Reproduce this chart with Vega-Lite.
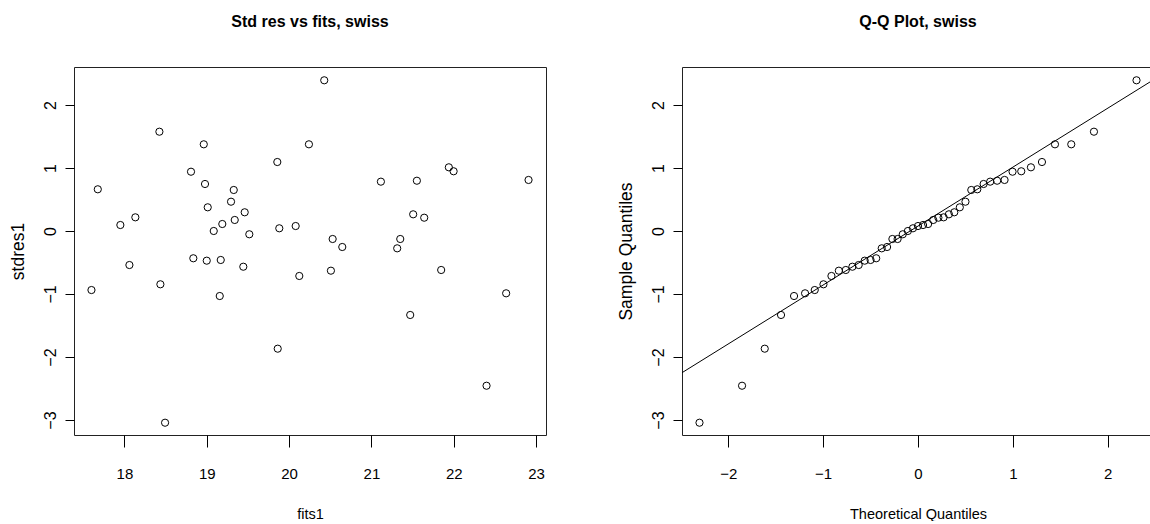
{
  "$schema": "https://vega.github.io/schema/vega-lite/v6.json",
  "background": "white",
  "padding": {"left": 8, "top": 13, "right": 0, "bottom": 0},
  "spacing": 136,
  "bounds": "flush",
  "datasets": {
    "resid": [
      {"fit": 17.677, "stdres": 0.662}, {"fit": 18.425, "stdres": 1.576}, {"fit": 18.964, "stdres": 1.376},
      {"fit": 18.809, "stdres": 0.941}, {"fit": 18.979, "stdres": 0.746}, {"fit": 19.328, "stdres": 0.651},
      {"fit": 19.295, "stdres": 0.465}, {"fit": 19.012, "stdres": 0.376}, {"fit": 19.461, "stdres": 0.297},
      {"fit": 19.340, "stdres": 0.175}, {"fit": 19.189, "stdres": 0.111}, {"fit": 19.085, "stdres": 0.000},
      {"fit": 19.517, "stdres": -0.052}, {"fit": 17.951, "stdres": 0.095}, {"fit": 18.133, "stdres": 0.217},
      {"fit": 19.857, "stdres": 1.095}, {"fit": 19.881, "stdres": 0.043}, {"fit": 20.080, "stdres": 0.079},
      {"fit": 20.427, "stdres": 2.392}, {"fit": 20.241, "stdres": 1.376}, {"fit": 21.940, "stdres": 1.011},
      {"fit": 21.998, "stdres": 0.948}, {"fit": 21.115, "stdres": 0.783}, {"fit": 21.552, "stdres": 0.798},
      {"fit": 22.908, "stdres": 0.810}, {"fit": 21.507, "stdres": 0.265}, {"fit": 21.641, "stdres": 0.211},
      {"fit": 20.529, "stdres": -0.127}, {"fit": 20.646, "stdres": -0.254}, {"fit": 21.350, "stdres": -0.127},
      {"fit": 21.313, "stdres": -0.275}, {"fit": 17.600, "stdres": -0.937}, {"fit": 18.061, "stdres": -0.540},
      {"fit": 18.437, "stdres": -0.846}, {"fit": 18.837, "stdres": -0.433}, {"fit": 19.000, "stdres": -0.471},
      {"fit": 19.170, "stdres": -0.460}, {"fit": 19.444, "stdres": -0.567}, {"fit": 19.158, "stdres": -1.032},
      {"fit": 20.124, "stdres": -0.714}, {"fit": 19.862, "stdres": -1.868}, {"fit": 18.494, "stdres": -3.043},
      {"fit": 20.508, "stdres": -0.630}, {"fit": 21.847, "stdres": -0.619}, {"fit": 22.636, "stdres": -0.989},
      {"fit": 21.471, "stdres": -1.333}, {"fit": 22.398, "stdres": -2.456}
    ],
    "qq": [
      {"theo": -2.3027, "sample": -3.043}, {"theo": -1.8542, "sample": -2.456}, {"theo": -1.6151, "sample": -1.868},
      {"theo": -1.4434, "sample": -1.333}, {"theo": -1.3063, "sample": -1.032}, {"theo": -1.1901, "sample": -0.989},
      {"theo": -1.0881, "sample": -0.937}, {"theo": -0.9963, "sample": -0.846}, {"theo": -0.9122, "sample": -0.714},
      {"theo": -0.8341, "sample": -0.630}, {"theo": -0.7608, "sample": -0.619}, {"theo": -0.6913, "sample": -0.567},
      {"theo": -0.6251, "sample": -0.540}, {"theo": -0.5615, "sample": -0.471}, {"theo": -0.5001, "sample": -0.460},
      {"theo": -0.4405, "sample": -0.433}, {"theo": -0.3824, "sample": -0.275}, {"theo": -0.3257, "sample": -0.254},
      {"theo": -0.2699, "sample": -0.127}, {"theo": -0.2150, "sample": -0.127}, {"theo": -0.1606, "sample": -0.052},
      {"theo": -0.1067, "sample": 0.000}, {"theo": -0.0533, "sample": 0.043}, {"theo": 0.0, "sample": 0.079},
      {"theo": 0.0533, "sample": 0.095}, {"theo": 0.1067, "sample": 0.111}, {"theo": 0.1606, "sample": 0.175},
      {"theo": 0.2150, "sample": 0.211}, {"theo": 0.2699, "sample": 0.217}, {"theo": 0.3257, "sample": 0.265},
      {"theo": 0.3824, "sample": 0.297}, {"theo": 0.4405, "sample": 0.376}, {"theo": 0.5001, "sample": 0.465},
      {"theo": 0.5615, "sample": 0.651}, {"theo": 0.6251, "sample": 0.662}, {"theo": 0.6913, "sample": 0.746},
      {"theo": 0.7608, "sample": 0.783}, {"theo": 0.8341, "sample": 0.798}, {"theo": 0.9122, "sample": 0.810},
      {"theo": 0.9963, "sample": 0.941}, {"theo": 1.0881, "sample": 0.948}, {"theo": 1.1901, "sample": 1.011},
      {"theo": 1.3063, "sample": 1.095}, {"theo": 1.4434, "sample": 1.376}, {"theo": 1.6151, "sample": 1.376},
      {"theo": 1.8542, "sample": 1.576}, {"theo": 2.3027, "sample": 2.392}
    ],
    "qqline": [
      {"theo": -2.487, "sample": -2.249},
      {"theo": 2.487, "sample": 2.405}
    ]
  },
  "config": {
    "view": {"stroke": "#222", "strokeWidth": 1},
    "title": {"font": "Liberation Sans", "fontSize": 16, "fontWeight": "bold", "color": "black", "baseline": "alphabetic", "offset": 37, "anchor": "middle"},
    "axis": {"grid": false, "domain": false, "tickColor": "black", "tickWidth": 1, "labelColor": "black", "titleColor": "black", "titleFontWeight": "normal", "format": "d"},
    "axisX": {"tickSize": 12, "labelFont": "Liberation Sans", "labelFontSize": 15, "labelBaseline": "alphabetic", "labelPadding": 31, "titleFont": "Liberation Sans", "titleFontSize": 14.5, "titleBaseline": "alphabetic", "titleX": 236, "titleY": 83, "labelFlush": false, "labelOverlap": false},
    "axisY": {"tickSize": 9, "labelFont": "Liberation Sans", "labelFontSize": 16, "labelAngle": 270, "labelAlign": "center", "labelBaseline": "alphabetic", "labelPadding": 10, "titleFont": "Liberation Sans", "titleFontSize": 17.5, "titleAngle": 270, "titleAlign": "center", "titleBaseline": "alphabetic", "titleX": -51, "titleY": 184, "labelFlush": false, "labelOverlap": false}
  },
  "hconcat": [
    {
      "width": 472,
      "height": 368,
      "title": "Std res vs fits, swiss",
      "data": {"name": "resid"},
      "mark": {"type": "point", "shape": "circle", "filled": false, "color": "black", "strokeWidth": 1, "size": 52, "opacity": 1},
      "encoding": {
        "x": {"field": "fit", "type": "quantitative", "title": "fits1",
              "scale": {"domain": [17.388, 23.12], "nice": false, "zero": false},
              "axis": {"values": [18, 19, 20, 21, 22, 23]}},
        "y": {"field": "stdres", "type": "quantitative", "title": "stdres1",
              "scale": {"domain": [-3.238, 2.603], "nice": false, "zero": false},
              "axis": {"values": [-3, -2, -1, 0, 1, 2]}}
      }
    },
    {
      "width": 472,
      "height": 368,
      "title": "Q-Q Plot, swiss",
      "layer": [
        {
          "data": {"name": "qq"},
          "mark": {"type": "point", "shape": "circle", "filled": false, "color": "black", "strokeWidth": 1, "size": 52, "opacity": 1},
          "encoding": {
            "x": {"field": "theo", "type": "quantitative", "title": "Theoretical Quantiles",
                  "scale": {"domain": [-2.487, 2.487], "nice": false, "zero": false},
                  "axis": {"values": [-2, -1, 0, 1, 2]}},
            "y": {"field": "sample", "type": "quantitative", "title": "Sample Quantiles",
                  "scale": {"domain": [-3.238, 2.603], "nice": false, "zero": false},
                  "axis": {"values": [-3, -2, -1, 0, 1, 2]}}
          }
        },
        {
          "data": {"name": "qqline"},
          "mark": {"type": "line", "color": "black", "strokeWidth": 1, "clip": true},
          "encoding": {
            "x": {"field": "theo", "type": "quantitative"},
            "y": {"field": "sample", "type": "quantitative"}
          }
        }
      ]
    }
  ]
}
